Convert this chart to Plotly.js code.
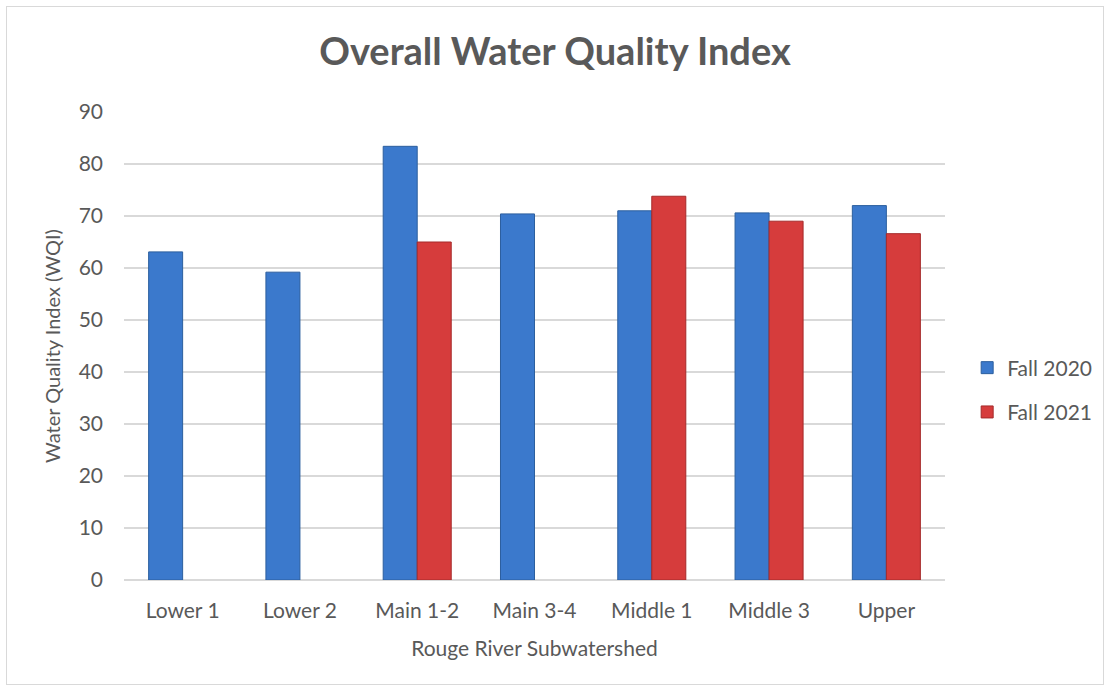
<!DOCTYPE html>
<html>
<head>
<meta charset="utf-8">
<script src="https://cdn.plot.ly/plotly-3.0.1.min.js"></script>
<style>
html,body{margin:0;padding:0;background:#fff;}
#chart{width:1110px;height:691px;box-sizing:border-box;}
#frame{position:absolute;left:6px;top:6px;width:1098px;height:679px;border:1px solid #d9d9d9;box-sizing:border-box;pointer-events:none;}
</style>
</head>
<body>
<div id="chart"></div>
<div id="frame"></div>
<script>
const categories = ["Lower 1", "Lower 2", "Main 1-2", "Main 3-4", "Middle 1", "Middle 3", "Upper"];
const fall2020 = [63.1, 59.2, 83.4, 70.4, 71.0, 70.6, 72.0];
const fall2021 = [null, null, 65.0, null, 73.8, 69.0, 66.6];
const yTicks = [0, 10, 20, 30, 40, 50, 60, 70, 80, 90];

const font = "Lato, 'Open Sans', 'Liberation Sans', sans-serif";
const traces = [
  {type: "bar", name: "Fall 2020", legendgroup: "a", x: categories, y: fall2020,
   marker: {color: "#3b79cc", line: {color: "#2c5f9e", width: 1}}},
  {type: "bar", name: "Fall 2021", legendgroup: "b", x: categories, y: fall2021,
   marker: {color: "#d63c3c", line: {color: "#a52a2a", width: 1}}}
];
const layout = {
  width: 1110, height: 691,
  paper_bgcolor: "rgba(0,0,0,0)", plot_bgcolor: "#fff",
  margin: {l: 124, r: 165, t: 112, b: 111},
  bargap: 0.42, bargroupgap: 0,
  font: {family: font, color: "#595959", size: 21},
  title: {text: "<b>Overall Water Quality Index</b>", x: 0.5, xanchor: "center", y: 0.925, yanchor: "middle",
          font: {size: 38, color: "#595959", family: font}},
  xaxis: {title: {text: "Rouge River Subwatershed", font: {size: 21, color: "#595959"}, standoff: 20},
          tickfont: {size: 21, color: "#595959"}, showline: false, ticks: "", showgrid: false,
          ticklabelstandoff: 16},
  yaxis: {title: {text: "Water Quality Index (WQI)", font: {size: 20, color: "#595959"}, standoff: 12},
          range: [0, 90], tickvals: yTicks, ticktext: yTicks.map(String),
          tickfont: {size: 21, color: "#595959"}, gridcolor: "#d9d9d9", gridwidth: 1.3,
          zeroline: true, zerolinecolor: "#d9d9d9", zerolinewidth: 1.3, ticks: "", ticklabelstandoff: 20},
  legend: {x: 1.027, xanchor: "left", y: 0.406, yanchor: "middle",
           font: {size: 21, color: "#595959"}, tracegroupgap: 14, itemwidth: 30},
  showlegend: true
};
Plotly.newPlot("chart", traces, layout, {displayModeBar: false, staticPlot: true});
</script>
</body>
</html>
